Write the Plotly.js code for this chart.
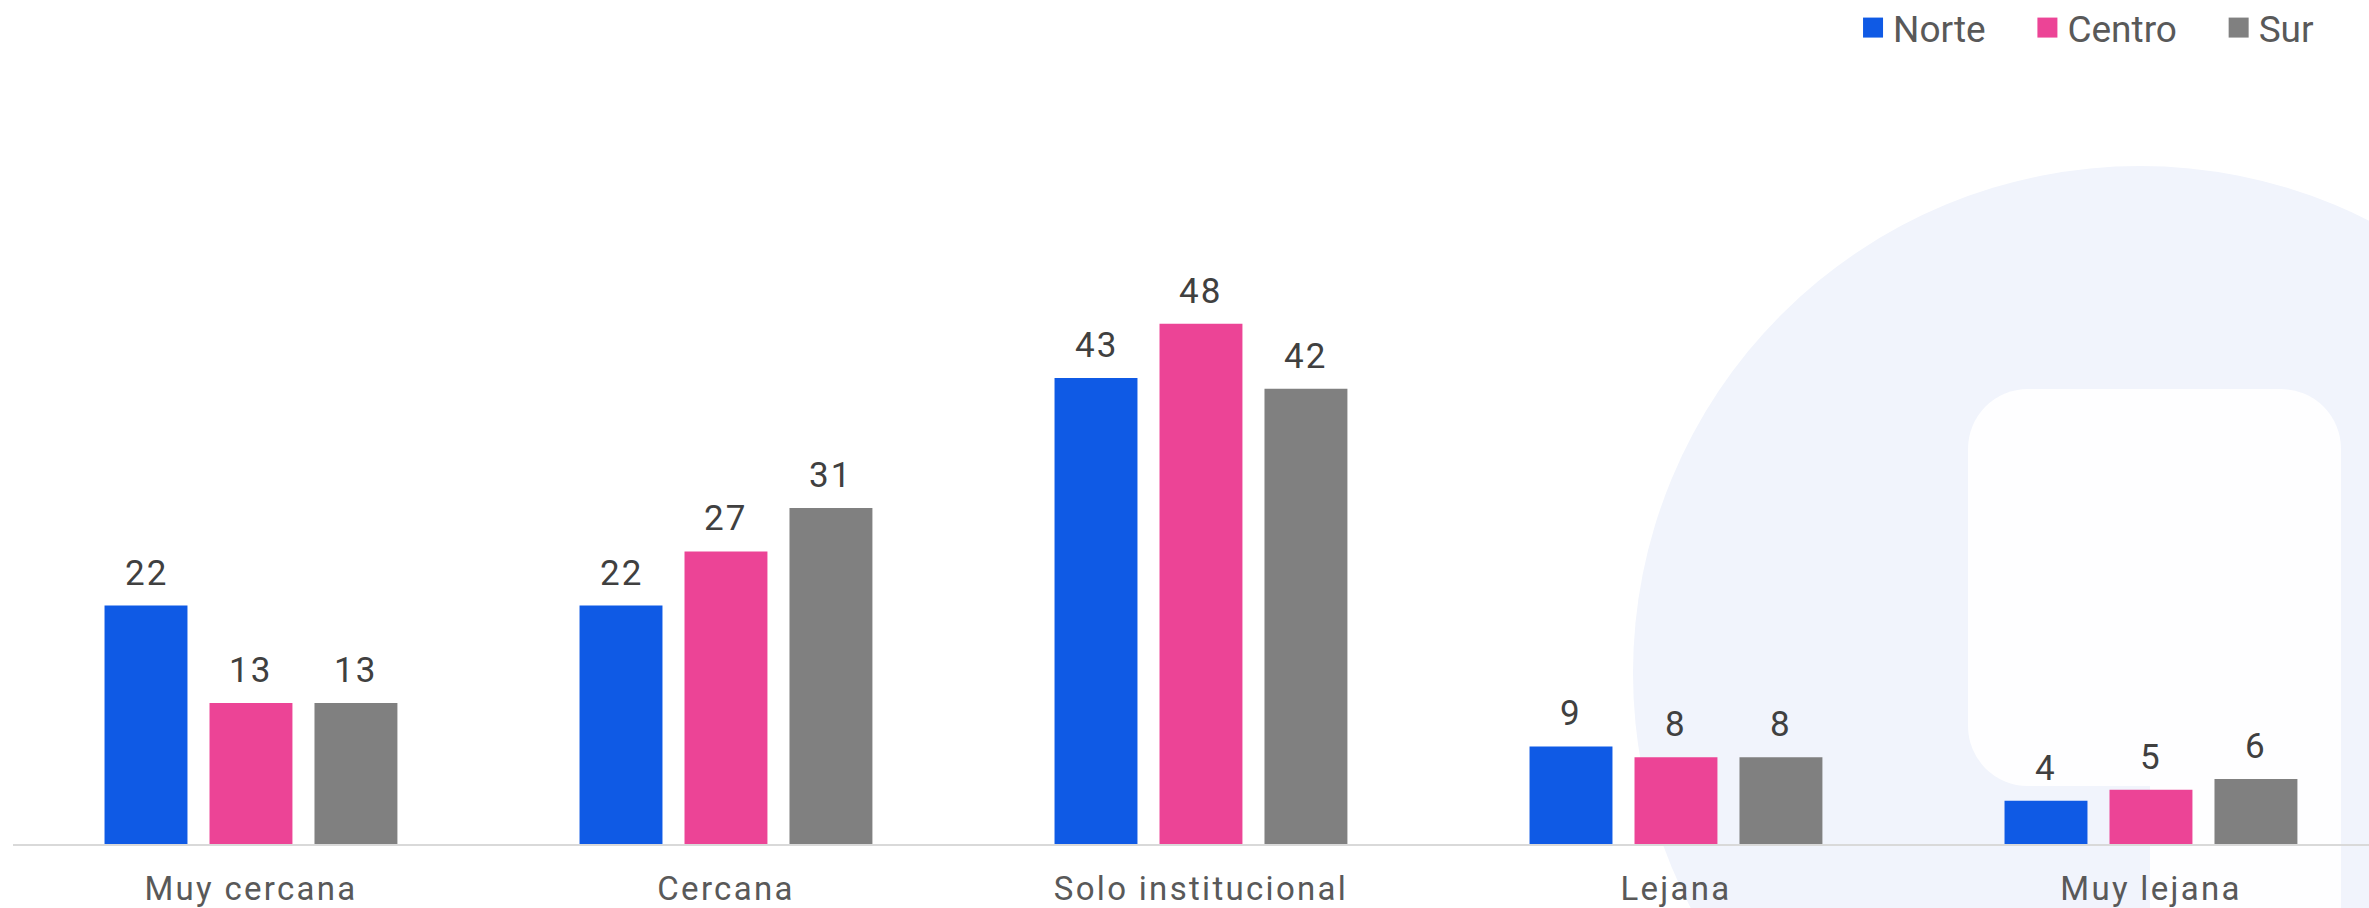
<!DOCTYPE html>
<html><head><meta charset="utf-8">
<script src="https://cdn.plot.ly/plotly-3.0.1.min.js"></script>
<style>
html,body{margin:0;padding:0;overflow:hidden;background:#fff;width:2369px;height:908px;}
#bg{position:absolute;left:0;top:0;width:2369px;height:908px;overflow:hidden;z-index:0}
.circle{position:absolute;left:1633px;top:166px;width:1014px;height:1014px;border-radius:50%;background:#f1f4fc}
.sq{position:absolute;left:1968px;top:389px;width:373px;height:397px;border-radius:60px;background:#fefeff}
.tail{position:absolute;left:2150px;top:700px;width:191px;height:208px;background:#fefeff}
#chart{position:absolute;left:0;top:0;width:2369px;height:908px;z-index:1}
.xtick text{letter-spacing:2.3px}
.annotation-text{letter-spacing:2px}
</style>
</head><body>
<div id="bg"><div class="circle"></div><div class="sq"></div><div class="tail"></div></div>
<div id="chart"></div>
<script>
const categories = ["Muy cercana", "Cercana", "Solo institucional", "Lejana", "Muy lejana"];
const norte  = [22, 22, 43, 9, 4];
const centro = [13, 27, 48, 8, 5];
const sur    = [13, 31, 42, 8, 6];
const seriesNames = ["Norte", "Centro", "Sur"];
const seriesValues = [norte, centro, sur];
const seriesColors = ["#0f5ae5", "#ec4496", "#808080"];

const FONT = "Roboto, 'Noto Sans', sans-serif";
const bargap = 0.337;
const bargroupgap = 0.21;
const NBSP = "\u00a0\u00a0\u00a0\u00a0";

const traces = seriesNames.map((name, j) => ({
  type: "bar",
  name: name + NBSP,
  x: categories,
  y: seriesValues[j],
  marker: {color: seriesColors[j], line: {width: 0}},
  hoverinfo: "x+y+name"
}));

const slot = (1 - bargap) / seriesNames.length;
const annotations = [];
seriesValues.forEach((vals, j) => {
  vals.forEach((v, i) => {
    annotations.push({
      x: i + (j - (seriesNames.length - 1) / 2) * slot,
      y: v,
      xref: "x", yref: "y",
      text: String(v),
      showarrow: false,
      yanchor: "bottom",
      yshift: 10,
      font: {family: FONT, size: 35, color: "#404040"}
    });
  });
});

const layout = {
  width: 2369, height: 908,
  autosize: false,
  margin: {l: 13, r: 0, t: 80, b: 64, pad: 0, autoexpand: false},
  paper_bgcolor: "rgba(0,0,0,0)",
  plot_bgcolor: "rgba(0,0,0,0)",
  barmode: "group",
  bargap: bargap,
  bargroupgap: bargroupgap,
  showlegend: true,
  legend: {
    orientation: "h",
    xref: "paper", yref: "paper",
    x: 0.781, xanchor: "left",
    y: 1.1086, yanchor: "top",
    bgcolor: "rgba(0,0,0,0)",
    font: {family: FONT, size: 37, color: "#595959"},
    traceorder: "normal"
  },
  xaxis: {
    type: "category",
    range: [-0.501, 4.459],
    showline: true, linecolor: "#d9d9d9", linewidth: 2,
    showgrid: false, zeroline: false,
    ticks: "outside", ticklen: 14, tickcolor: "rgba(0,0,0,0)",
    tickfont: {family: FONT, size: 33, color: "#595959"},
    fixedrange: true
  },
  yaxis: {
    range: [0, 70.5],
    visible: false, showgrid: false, zeroline: false,
    fixedrange: true
  },
  annotations: annotations,
  font: {family: FONT}
};

Plotly.newPlot("chart", traces, layout, {displayModeBar: false, staticPlot: true}).then(gd => {
  gd.querySelectorAll(".legend .legendpoints path").forEach(p => p.setAttribute("d", "M10,10H-10V-10H10Z"));
});
</script>
</body></html>
